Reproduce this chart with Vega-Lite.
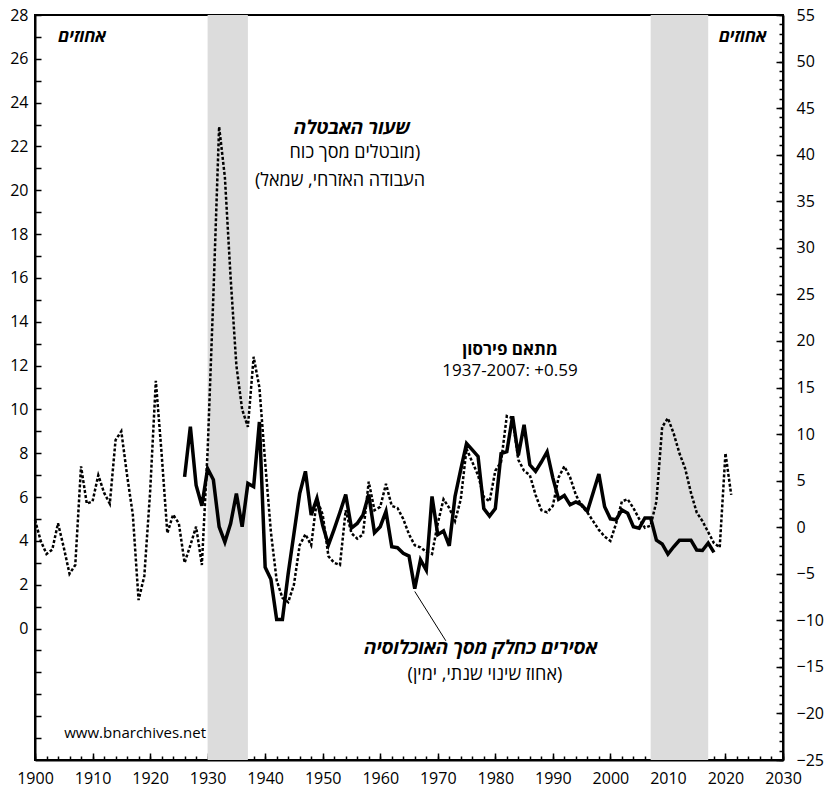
{
  "$schema": "https://vega.github.io/schema/vega-lite/v6.json",
  "width": 748,
  "height": 745,
  "autosize": {"type": "none"},
  "padding": {"left": 35, "top": 15, "right": 43, "bottom": 34},
  "background": "white",
  "config": {
    "view": {"stroke": "black", "strokeWidth": 2},
    "font": "Open Sans",
    "axis": {"grid": false, "domainColor": "black", "domainWidth": 2, "tickColor": "black", "tickWidth": 1.5, "labelColor": "black", "labelFontSize": 16, "labelFont": "Open Sans", "title": null}
  },
  "datasets": {
    "bands": [{"start": 1930, "end": 1937}, {"start": 2007, "end": 2017}],
    "unemp": [
      {"year": 1900, "u": 4.95}, {"year": 1901, "u": 4.0}, {"year": 1902, "u": 3.4}, {"year": 1903, "u": 3.6}, {"year": 1904, "u": 4.8},
      {"year": 1905, "u": 3.7}, {"year": 1906, "u": 2.5}, {"year": 1907, "u": 2.9}, {"year": 1908, "u": 7.4}, {"year": 1909, "u": 5.7},
      {"year": 1910, "u": 5.8}, {"year": 1911, "u": 7.0}, {"year": 1912, "u": 6.2}, {"year": 1913, "u": 5.7}, {"year": 1914, "u": 8.6},
      {"year": 1915, "u": 9.0}, {"year": 1916, "u": 7.0}, {"year": 1917, "u": 5.2}, {"year": 1918, "u": 1.3}, {"year": 1919, "u": 2.4},
      {"year": 1920, "u": 6.2}, {"year": 1921, "u": 11.3}, {"year": 1922, "u": 8.0}, {"year": 1923, "u": 4.35}, {"year": 1924, "u": 5.2},
      {"year": 1925, "u": 4.8}, {"year": 1926, "u": 3.0}, {"year": 1927, "u": 3.8}, {"year": 1928, "u": 4.65}, {"year": 1929, "u": 2.9},
      {"year": 1930, "u": 8.1}, {"year": 1931, "u": 15.2}, {"year": 1932, "u": 22.9}, {"year": 1933, "u": 20.6}, {"year": 1934, "u": 16.0},
      {"year": 1935, "u": 12.0}, {"year": 1936, "u": 10.0}, {"year": 1937, "u": 9.2}, {"year": 1938, "u": 12.4}, {"year": 1939, "u": 11.0},
      {"year": 1940, "u": 7.6}, {"year": 1941, "u": 4.4}, {"year": 1942, "u": 2.2}, {"year": 1943, "u": 1.4}, {"year": 1944, "u": 1.2},
      {"year": 1945, "u": 2.0}, {"year": 1946, "u": 3.8}, {"year": 1947, "u": 4.3}, {"year": 1948, "u": 3.8}, {"year": 1949, "u": 5.9},
      {"year": 1950, "u": 5.2}, {"year": 1951, "u": 3.3}, {"year": 1952, "u": 3.0}, {"year": 1953, "u": 2.9}, {"year": 1954, "u": 5.4},
      {"year": 1955, "u": 4.35}, {"year": 1956, "u": 4.1}, {"year": 1957, "u": 4.3}, {"year": 1958, "u": 6.7}, {"year": 1959, "u": 5.4},
      {"year": 1960, "u": 5.55}, {"year": 1961, "u": 6.6}, {"year": 1962, "u": 5.6}, {"year": 1963, "u": 5.5}, {"year": 1964, "u": 5.0},
      {"year": 1965, "u": 4.3}, {"year": 1966, "u": 3.8}, {"year": 1967, "u": 3.7}, {"year": 1968, "u": 3.5}, {"year": 1969, "u": 3.4},
      {"year": 1970, "u": 4.8}, {"year": 1971, "u": 5.9}, {"year": 1972, "u": 5.5}, {"year": 1973, "u": 4.9}, {"year": 1974, "u": 5.9},
      {"year": 1975, "u": 8.2}, {"year": 1976, "u": 7.6}, {"year": 1977, "u": 7.0}, {"year": 1978, "u": 6.0}, {"year": 1979, "u": 5.8},
      {"year": 1980, "u": 7.2}, {"year": 1981, "u": 7.6}, {"year": 1982, "u": 9.7}, {"year": 1983, "u": 9.6}, {"year": 1984, "u": 7.7},
      {"year": 1985, "u": 7.2}, {"year": 1986, "u": 7.0}, {"year": 1987, "u": 6.1}, {"year": 1988, "u": 5.4}, {"year": 1989, "u": 5.3},
      {"year": 1990, "u": 5.6}, {"year": 1991, "u": 6.9}, {"year": 1992, "u": 7.4}, {"year": 1993, "u": 6.9}, {"year": 1994, "u": 6.1},
      {"year": 1995, "u": 5.6}, {"year": 1996, "u": 5.3}, {"year": 1997, "u": 4.9}, {"year": 1998, "u": 4.5}, {"year": 1999, "u": 4.2},
      {"year": 2000, "u": 4.0}, {"year": 2001, "u": 4.8}, {"year": 2002, "u": 5.8}, {"year": 2003, "u": 5.9}, {"year": 2004, "u": 5.5},
      {"year": 2005, "u": 5.0}, {"year": 2006, "u": 4.6}, {"year": 2007, "u": 4.7}, {"year": 2008, "u": 5.8}, {"year": 2009, "u": 9.2},
      {"year": 2010, "u": 9.6}, {"year": 2011, "u": 8.9}, {"year": 2012, "u": 8.0}, {"year": 2013, "u": 7.3}, {"year": 2014, "u": 6.2},
      {"year": 2015, "u": 5.3}, {"year": 2016, "u": 4.9}, {"year": 2017, "u": 4.4}, {"year": 2018, "u": 3.9}, {"year": 2019, "u": 3.7},
      {"year": 2020, "u": 8.0}, {"year": 2021, "u": 6.1}
    ],
    "prison": [
      {"year": 1926, "p": 5.4}, {"year": 1927, "p": 10.8}, {"year": 1928, "p": 4.5}, {"year": 1929, "p": 2.3}, {"year": 1930, "p": 6.3},
      {"year": 1931, "p": 5.1}, {"year": 1932, "p": 0.05}, {"year": 1933, "p": -1.6}, {"year": 1934, "p": 0.4}, {"year": 1935, "p": 3.6},
      {"year": 1936, "p": 0.05}, {"year": 1937, "p": 4.7}, {"year": 1938, "p": 4.35}, {"year": 1939, "p": 11.3}, {"year": 1940, "p": -4.3},
      {"year": 1941, "p": -5.6}, {"year": 1942, "p": -9.9}, {"year": 1943, "p": -9.9}, {"year": 1944, "p": -5.0}, {"year": 1945, "p": -0.7},
      {"year": 1946, "p": 3.6}, {"year": 1947, "p": 6.0}, {"year": 1948, "p": 1.3}, {"year": 1949, "p": 3.1}, {"year": 1950, "p": 0.2},
      {"year": 1951, "p": -1.9}, {"year": 1952, "p": -0.2}, {"year": 1953, "p": 1.6}, {"year": 1954, "p": 3.5}, {"year": 1955, "p": -0.1},
      {"year": 1956, "p": 0.4}, {"year": 1957, "p": 1.3}, {"year": 1958, "p": 3.5}, {"year": 1959, "p": -0.6}, {"year": 1960, "p": 0.05},
      {"year": 1961, "p": 1.7}, {"year": 1962, "p": -2.1}, {"year": 1963, "p": -2.2}, {"year": 1964, "p": -2.8}, {"year": 1965, "p": -3.1},
      {"year": 1966, "p": -6.6}, {"year": 1967, "p": -3.5}, {"year": 1968, "p": -4.6}, {"year": 1969, "p": 3.3}, {"year": 1970, "p": -0.8},
      {"year": 1971, "p": -0.4}, {"year": 1972, "p": -2.0}, {"year": 1973, "p": 3.3}, {"year": 1974, "p": 6.2}, {"year": 1975, "p": 9.0},
      {"year": 1976, "p": 8.3}, {"year": 1977, "p": 7.6}, {"year": 1978, "p": 2.0}, {"year": 1979, "p": 1.2}, {"year": 1980, "p": 2.0},
      {"year": 1981, "p": 7.9}, {"year": 1982, "p": 8.1}, {"year": 1983, "p": 11.9}, {"year": 1984, "p": 7.7}, {"year": 1985, "p": 11.0},
      {"year": 1986, "p": 6.7}, {"year": 1987, "p": 6.0}, {"year": 1988, "p": 7.0}, {"year": 1989, "p": 8.1}, {"year": 1990, "p": 5.3},
      {"year": 1991, "p": 3.0}, {"year": 1992, "p": 3.4}, {"year": 1993, "p": 2.4}, {"year": 1994, "p": 2.7}, {"year": 1995, "p": 2.4},
      {"year": 1996, "p": 1.7}, {"year": 1997, "p": 3.7}, {"year": 1998, "p": 5.7}, {"year": 1999, "p": 2.2}, {"year": 2000, "p": 0.9},
      {"year": 2001, "p": 0.8}, {"year": 2002, "p": 1.85}, {"year": 2003, "p": 1.5}, {"year": 2004, "p": 0.05}, {"year": 2005, "p": -0.1},
      {"year": 2006, "p": 1.0}, {"year": 2007, "p": 1.0}, {"year": 2008, "p": -1.4}, {"year": 2009, "p": -1.8}, {"year": 2010, "p": -2.9},
      {"year": 2011, "p": -2.1}, {"year": 2012, "p": -1.4}, {"year": 2013, "p": -1.4}, {"year": 2014, "p": -1.4}, {"year": 2015, "p": -2.45},
      {"year": 2016, "p": -2.5}, {"year": 2017, "p": -1.7}, {"year": 2018, "p": -2.7}
    ]
  },
  "layer": [
    {
      "data": {"name": "bands"},
      "mark": {"type": "rect", "color": "#dcdcdc"},
      "encoding": {
        "x": {"field": "start", "type": "quantitative", "scale": {"domain": [1900, 2030], "nice": false, "zero": false},
          "axis": {"orient": "bottom", "values": [1900, 1910, 1920, 1930, 1940, 1950, 1960, 1970, 1980, 1990, 2000, 2010, 2020, 2030], "tickSize": -7, "labelPadding": 17, "format": "d", "labelFlush": false, "labelOverlap": false}},
        "x2": {"field": "end"}
      }
    },
    {
      "data": {"name": "unemp"},
      "mark": {"type": "line", "color": "black", "strokeWidth": 2.5, "strokeDash": [3, 2]},
      "encoding": {
        "x": {"field": "year", "type": "quantitative", "scale": {"domain": [1900, 2030], "nice": false, "zero": false},
          "axis": {"orient": "bottom", "values": [1900,1902,1904,1906,1908,1910,1912,1914,1916,1918,1920,1922,1924,1926,1928,1930,1932,1934,1936,1938,1940,1942,1944,1946,1948,1950,1952,1954,1956,1958,1960,1962,1964,1966,1968,1970,1972,1974,1976,1978,1980,1982,1984,1986,1988,1990,1992,1994,1996,1998,2000,2002,2004,2006,2008,2010,2012,2014,2016,2018,2020,2022,2024,2026,2028,2030], "tickSize": -4, "labels": false, "domain": false}},
        "y": {"field": "u", "type": "quantitative", "scale": {"domain": [-6, 28], "nice": false, "zero": false},
          "axis": {"orient": "left", "values": [-5,-4,-3,-2,-1,0,1,2,3,4,5,6,7,8,9,10,11,12,13,14,15,16,17,18,19,20,21,22,23,24,25,26,27,28], "tickSize": -6, "labelPadding": 13, "labelExpr": "datum.value >= 0 && datum.value % 2 == 0 ? datum.label : ''", "labelFlush": false, "labelOverlap": false}}
      }
    },
    {
      "data": {"name": "prison"},
      "mark": {"type": "line", "color": "black", "strokeWidth": 3.5, "strokeJoin": "miter"},
      "encoding": {
        "x": {"field": "year", "type": "quantitative", "scale": {"domain": [1900, 2030], "nice": false, "zero": false}, "axis": null},
        "y": {"field": "p", "type": "quantitative", "scale": {"domain": [-25, 55], "nice": false, "zero": false},
          "axis": {"orient": "right", "values": [-25,-20,-15,-10,-5,0,5,10,15,20,25,30,35,40,45,50,55], "tickSize": -7, "labelPadding": 20, "labelFlush": false, "labelOverlap": false}}
      }
    },
    {
      "data": {"values": [{}]},
      "mark": {"type": "rule", "color": "black", "strokeWidth": 1},
      "encoding": {
        "x": {"datum": 1966.0, "type": "quantitative", "scale": {"domain": [1900, 2030], "nice": false, "zero": false}, "axis": null},
        "x2": {"datum": 1971.4},
        "y": {"datum": -6.9, "type": "quantitative", "scale": {"domain": [-25, 55], "nice": false, "zero": false},
          "axis": {"orient": "right", "values": [-25,-24,-23,-22,-21,-20,-19,-18,-17,-16,-15,-14,-13,-12,-11,-10,-9,-8,-7,-6,-5,-4,-3,-2,-1,0,1,2,3,4,5,6,7,8,9,10,11,12,13,14,15,16,17,18,19,20,21,22,23,24,25,26,27,28,29,30,31,32,33,34,35,36,37,38,39,40,41,42,43,44,45,46,47,48,49,50,51,52,53,54,55], "tickSize": -4, "labels": false, "domain": false}},
        "y2": {"datum": -12.2}
      }
    },
    {
      "data": {"values": [{}]},
      "mark": {"type": "text", "text": "אחוזים", "fontSize": 17, "fontWeight": "bold", "fontStyle": "italic", "color": "black", "align": "center", "baseline": "middle"},
      "encoding": {
        "x": {"datum": 1908.2, "type": "quantitative", "scale": {"domain": [1900, 2030], "nice": false, "zero": false}, "axis": null},
        "y": {"datum": 27.0, "type": "quantitative", "scale": {"domain": [-6, 28], "nice": false, "zero": false}, "axis": null}
      }
    },
    {
      "data": {"values": [{}]},
      "mark": {"type": "text", "text": "אחוזים", "fontSize": 17, "fontWeight": "bold", "fontStyle": "italic", "color": "black", "align": "center", "baseline": "middle"},
      "encoding": {
        "x": {"datum": 2023.0, "type": "quantitative", "scale": {"domain": [1900, 2030], "nice": false, "zero": false}, "axis": null},
        "y": {"datum": 27.0, "type": "quantitative", "scale": {"domain": [-6, 28], "nice": false, "zero": false}, "axis": null}
      }
    },
    {
      "data": {"values": [{}]},
      "mark": {"type": "text", "text": "שעור האבטלה", "fontSize": 19, "fontWeight": "bold", "fontStyle": "italic", "color": "black", "align": "center", "baseline": "middle"},
      "encoding": {
        "x": {"datum": 1955.1, "type": "quantitative", "scale": {"domain": [1900, 2030], "nice": false, "zero": false}, "axis": null},
        "y": {"datum": 22.85, "type": "quantitative", "scale": {"domain": [-6, 28], "nice": false, "zero": false}, "axis": null}
      }
    },
    {
      "data": {"values": [{}]},
      "mark": {"type": "text", "text": "\u200F(מובטלים מסך כוח", "fontSize": 18, "color": "black", "align": "center", "baseline": "middle"},
      "encoding": {
        "x": {"datum": 1955.6, "type": "quantitative", "scale": {"domain": [1900, 2030], "nice": false, "zero": false}, "axis": null},
        "y": {"datum": 21.7, "type": "quantitative", "scale": {"domain": [-6, 28], "nice": false, "zero": false}, "axis": null}
      }
    },
    {
      "data": {"values": [{}]},
      "mark": {"type": "text", "text": "העבודה האזרחי, שמאל)\u200F", "fontSize": 18, "color": "black", "align": "center", "baseline": "middle"},
      "encoding": {
        "x": {"datum": 1953.0, "type": "quantitative", "scale": {"domain": [1900, 2030], "nice": false, "zero": false}, "axis": null},
        "y": {"datum": 20.43, "type": "quantitative", "scale": {"domain": [-6, 28], "nice": false, "zero": false}, "axis": null}
      }
    },
    {
      "data": {"values": [{}]},
      "mark": {"type": "text", "text": "מתאם פירסון", "fontSize": 17, "fontWeight": "bold", "color": "black", "align": "center", "baseline": "middle"},
      "encoding": {
        "x": {"datum": 1982.55, "type": "quantitative", "scale": {"domain": [1900, 2030], "nice": false, "zero": false}, "axis": null},
        "y": {"datum": 12.71, "type": "quantitative", "scale": {"domain": [-6, 28], "nice": false, "zero": false}, "axis": null}
      }
    },
    {
      "data": {"values": [{}]},
      "mark": {"type": "text", "text": "1937-2007: +0.59", "fontSize": 17, "color": "black", "align": "center", "baseline": "middle"},
      "encoding": {
        "x": {"datum": 1982.55, "type": "quantitative", "scale": {"domain": [1900, 2030], "nice": false, "zero": false}, "axis": null},
        "y": {"datum": 11.75, "type": "quantitative", "scale": {"domain": [-6, 28], "nice": false, "zero": false}, "axis": null}
      }
    },
    {
      "data": {"values": [{}]},
      "mark": {"type": "text", "text": "אסירים כחלק מסך האוכלוסיה", "fontSize": 19, "fontWeight": "bold", "fontStyle": "italic", "color": "black", "align": "center", "baseline": "middle"},
      "encoding": {
        "x": {"datum": 1977.5, "type": "quantitative", "scale": {"domain": [1900, 2030], "nice": false, "zero": false}, "axis": null},
        "y": {"datum": -0.89, "type": "quantitative", "scale": {"domain": [-6, 28], "nice": false, "zero": false}, "axis": null}
      }
    },
    {
      "data": {"values": [{}]},
      "mark": {"type": "text", "text": "\u200F(אחוז שינוי שנתי, ימין)", "fontSize": 18, "color": "black", "align": "center", "baseline": "middle"},
      "encoding": {
        "x": {"datum": 1978.2, "type": "quantitative", "scale": {"domain": [1900, 2030], "nice": false, "zero": false}, "axis": null},
        "y": {"datum": -2.12, "type": "quantitative", "scale": {"domain": [-6, 28], "nice": false, "zero": false}, "axis": null}
      }
    },
    {
      "data": {"values": [{}]},
      "mark": {"type": "text", "text": "www.bnarchives.net", "fontSize": 15, "color": "black", "align": "center", "baseline": "middle"},
      "encoding": {
        "x": {"datum": 1917.4, "type": "quantitative", "scale": {"domain": [1900, 2030], "nice": false, "zero": false}, "axis": null},
        "y": {"datum": -4.77, "type": "quantitative", "scale": {"domain": [-6, 28], "nice": false, "zero": false}, "axis": null}
      }
    }
  ],
  "resolve": {"scale": {"y": "independent"}, "axis": {"x": "independent", "y": "independent"}}
}
